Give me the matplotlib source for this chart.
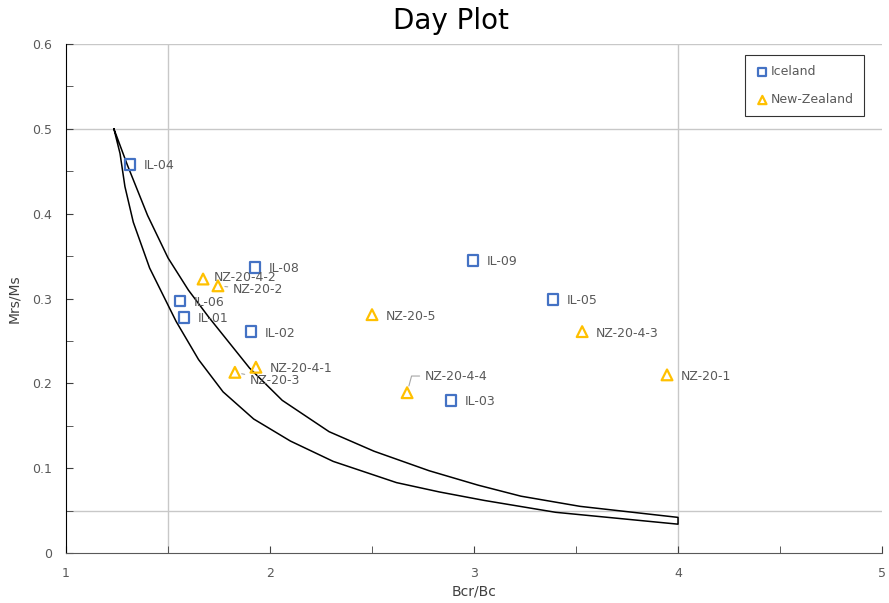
import matplotlib
matplotlib.use("Agg")
import matplotlib.pyplot as plt
from matplotlib.ticker import MultipleLocator

# ============================================================
# DATA
# ============================================================
iceland_names = ["IL-04", "IL-08", "IL-06", "IL-01", "IL-02", "IL-09", "IL-05", "IL-03"]
iceland_bcr   = [1.314, 1.926, 1.559, 1.578, 1.907, 2.995, 3.387, 2.887]
iceland_mrs   = [0.458, 0.337, 0.297, 0.278, 0.261, 0.345, 0.299, 0.180]

nz_names = ["NZ-20-4-2", "NZ-20-2", "NZ-20-4-1", "NZ-20-3", "NZ-20-5", "NZ-20-4-3", "NZ-20-4-4", "NZ-20-1"]
nz_bcr   = [1.672, 1.745, 1.931, 1.828, 2.500, 3.530, 2.672, 3.946]
nz_mrs   = [0.323, 0.315, 0.219, 0.213, 0.281, 0.261, 0.189, 0.210]

# SD-MD mixing envelope (upper and lower branch)
upper_x = [1.235, 1.30, 1.40, 1.50, 1.60, 1.70, 1.80, 1.90, 2.06, 2.29, 2.51, 2.78, 3.02, 3.23, 3.52, 4.00]
upper_y = [0.500, 0.458, 0.398, 0.348, 0.310, 0.278, 0.248, 0.218, 0.180, 0.143, 0.120, 0.097, 0.080, 0.067, 0.055, 0.042]
lower_x = [1.235, 1.265, 1.289, 1.33, 1.41, 1.54, 1.65, 1.77, 1.92, 2.10, 2.31, 2.62, 2.83, 3.05, 3.40, 4.00]
lower_y = [0.500, 0.471, 0.432, 0.390, 0.336, 0.273, 0.228, 0.190, 0.158, 0.132, 0.108, 0.083, 0.072, 0.062, 0.048, 0.034]

# Day plot boundaries
bound_x = [1.5, 4.0]
bound_y = [0.5, 0.05]

# ============================================================
BLUE = "#4472C4"
GOLD = "#FFC000"
TXT  = "#595959"

plt.rcParams["font.family"] = ["DejaVu Sans"]

fig = plt.figure(figsize=(8.89, 6.03), dpi=100)
ax = fig.add_axes([0.0742, 0.0829, 0.918, 0.844])

for bx in bound_x:
    ax.axvline(bx, color="#C8C8C8", linewidth=1.0, zorder=1)
for by in bound_y + [0.6]:
    ax.axhline(by, color="#C8C8C8", linewidth=1.0, zorder=1)

# envelope as one closed path
env_x = lower_x + upper_x[::-1]
env_y = lower_y + upper_y[::-1]
ax.plot(env_x, env_y, color="black", linewidth=1.1, zorder=2)

ax.scatter(iceland_bcr, iceland_mrs, marker="s", s=60, facecolors="none",
           edgecolors=BLUE, linewidths=1.6, label="Iceland", zorder=3)
ax.scatter(nz_bcr, nz_mrs, marker="^", s=60, facecolors="none",
           edgecolors=GOLD, linewidths=1.6, label="New-Zealand", zorder=3)

# data labels (offsets in points)
label_off = {
    "NZ-20-4-2": (8, 1),
    "NZ-20-2": (11, -3),
    "NZ-20-3": (11, -6),
    "NZ-20-4-4": (13, 12),
}
leaders = {
    "NZ-20-2": "arc3",
    "NZ-20-3": "arc3",
    "NZ-20-4-4": "angle,angleA=180,angleB=75,rad=0",
}

for names, xs, ys in [(iceland_names, iceland_bcr, iceland_mrs), (nz_names, nz_bcr, nz_mrs)]:
    for n, x, y in zip(names, xs, ys):
        off = label_off.get(n, (10, -1))
        kw = {}
        if n in leaders:
            kw["arrowprops"] = dict(arrowstyle="-", color="#A6A6A6", linewidth=0.8,
                                    shrinkA=2, shrinkB=5, connectionstyle=leaders[n])
        ax.annotate(n, (x, y), xytext=off, textcoords="offset points",
                    fontsize=9, color=TXT, va="center", ha="left", zorder=4, **kw)

ax.set_xlim(1, 5)
ax.set_ylim(0, 0.6)
ax.xaxis.set_major_locator(MultipleLocator(1))
ax.xaxis.set_minor_locator(MultipleLocator(0.5))
ax.yaxis.set_major_locator(MultipleLocator(0.1))
ax.yaxis.set_minor_locator(MultipleLocator(0.05))
ax.yaxis.set_major_formatter(plt.FuncFormatter(lambda v, p: "0" if v == 0 else f"{v:.1f}"))

ax.tick_params(axis="both", which="both", direction="in", colors="#404040", labelcolor=TXT, labelsize=9)
ax.tick_params(axis="both", which="major", length=5)
ax.tick_params(axis="both", which="minor", length=5)
ax.tick_params(axis="x", pad=10)
ax.tick_params(axis="y", pad=10)

ax.spines["top"].set_visible(False)
ax.spines["right"].set_visible(False)
ax.spines["left"].set_color("black")
ax.spines["bottom"].set_color("#595959")

ax.set_xlabel("Bcr/Bc", fontsize=10, color="#404040", labelpad=3)
ax.set_ylabel("Mrs/Ms", fontsize=10, color="#404040", labelpad=8)

fig.text(0.507, 0.965, "Day Plot", ha="center", va="center", fontsize=20, color="black")

leg = ax.legend(loc="upper right", bbox_to_anchor=(0.978, 0.978), frameon=True, fancybox=False,
                fontsize=9, labelspacing=1.2, handletextpad=0.1, borderpad=0.8,
                handlelength=1.2, borderaxespad=0)
leg.get_frame().set_edgecolor("black")
leg.get_frame().set_linewidth(0.8)
for t in leg.get_texts():
    t.set_color(TXT)
for h in leg.legend_handles:
    h.set_sizes([35])

fig.savefig("out.png", dpi=100)
